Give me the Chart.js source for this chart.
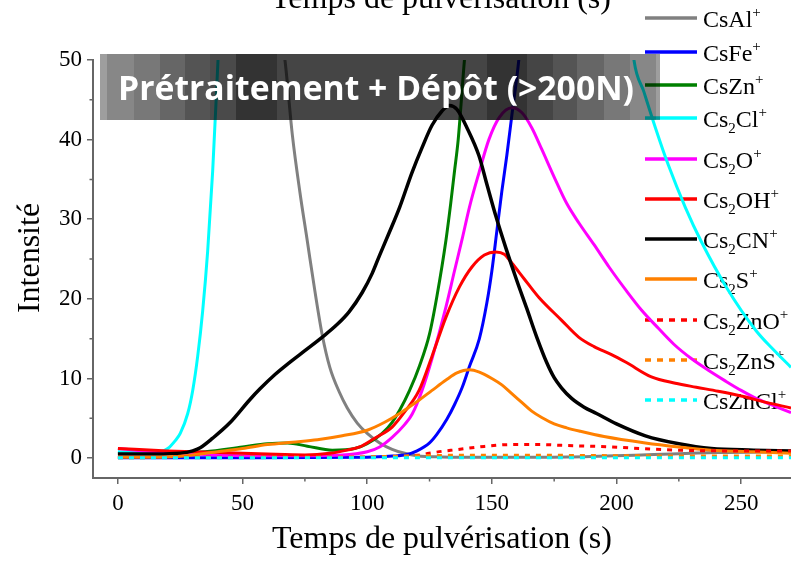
<!DOCTYPE html>
<html lang="fr">
<head>
<meta charset="UTF-8">
<title>Intensité</title>
<script src="https://cdn.jsdelivr.net/npm/chart.js"></script>
<style>
  body { margin: 0; background: #fff; }
  #chart { display: block; }
</style>
</head>
<body>
<canvas id="chart" width="791" height="561"></canvas>

<script>
  // [temps (s), intensité]; values above 50 are off-scale
  var csAl = [[0,120],[40,100],[55,75],[62,60],[67,50],[70,40.5],[73,33.4],[76,27.2],[79,21],[82,15.4],[85,11.4],[88.8,8.3],[92,6.3],[96,4.4],[100,3.1],[105,1.9],[110,1.1],[115,0.6],[120,0.3],[130,0.15],[150,0.1],[180,0.15],[210,0.4],[240,0.7],[270,0.8]];
  var csFe = [[0,0.05],[50,0.05],[100,0.1],[110,0.25],[116,0.45],[120,0.9],[125,1.9],[128,3],[132,4.9],[135,6.7],[138,8.8],[141,11.5],[145,15],[148,19.5],[150,23.5],[152,28.5],[154,33.5],[156,38],[158,43],[160.8,50],[163,58],[170,80],[200,150],[270,200]];
  var csZn = [[0,0.6],[20,0.6],[35,0.8],[50,1.4],[60,1.8],[68,1.9],[76,1.5],[86,1],[95,1.2],[100,1.8],[106,3.1],[110,4.5],[113,6],[117,8.5],[121,11.6],[125,15.6],[128,20.4],[131.6,27.4],[133.5,32],[135,36],[136.5,40],[139,50],[142,60],[150,90],[270,200]];
  var cs2Cl = [[0,0.8],[10,0.7],[17,0.8],[20,1.2],[23,2.2],[25,3.1],[28,5.6],[30,8.5],[32,12.8],[34,18.5],[36,26],[38,36],[40,49],[42,62],[50,100],[120,200],[195,100],[203,63],[207,50],[211,46],[215.6,41.5],[220.8,36.8],[227.6,31.5],[234,27.2],[244,21.5],[256,16],[263,13.6],[270,11.4]];
  var cs2O = [[0,1.2],[15,0.8],[30,0.5],[50,0.3],[70,0.3],[90,0.4],[100,0.8],[105,1.4],[110,2.6],[115,4.2],[118,5.5],[122,8.5],[126,12.5],[131.6,19],[135,23.5],[138,27.4],[141,31.5],[144.8,35.8],[148.8,40],[153,42.8],[158,44],[162,43.4],[166,41.5],[170,38.8],[175,35.3],[180,32],[185,29.5],[191,26.8],[197,24],[204,21],[210,18.6],[216.8,16.3],[223,14.3],[230,12.5],[237,11],[243.6,9.7],[250,8.5],[256,7.5],[263,6.6],[270,5.7]];
  var cs2OH = [[0,1.2],[20,0.9],[40,0.7],[60,0.5],[75,0.4],[85,0.6],[92,1],[97,1.4],[103,2.5],[110,3.9],[115,5.8],[120.8,8.5],[126,12.8],[131.6,17.7],[137,21.5],[142,24],[147,25.5],[151.6,25.9],[155,25.6],[158,24.5],[163,22.5],[168.8,20.2],[178,17.3],[184.8,15.2],[191,14],[198,13],[204,12],[214,10.2],[223.6,9.4],[232,8.9],[240.8,8.4],[250,7.8],[260,7],[270,6.3]];
  var cs2CN = [[0,0.5],[15,0.5],[25,0.6],[30,0.9],[33,1.3],[38,2.5],[44.8,4.4],[52.8,7.3],[57,8.7],[63,10.5],[68.8,12],[75,13.5],[82,15.2],[88,16.8],[92.8,18.4],[98,20.8],[102,23.2],[105,25.5],[108.8,28.3],[113,31.5],[118,35.9],[122,39],[126,41.8],[130,43.6],[133,44.3],[136,43.8],[140,41.5],[144.8,38],[148,34.4],[151.6,30.4],[155.6,26.4],[160,22.3],[164,18.8],[168,15.2],[172,12],[175,10.1],[178,8.8],[182,7.5],[187,6.4],[192,5.6],[200,4.3],[211.6,2.8],[225,1.8],[238,1.2],[255,1],[270,0.9]];
  var cs2S = [[0,0.1],[20,0.15],[30,0.4],[40,0.8],[50,1.2],[60,1.7],[70,2],[80,2.3],[90,2.8],[100,3.5],[107,4.5],[113,5.6],[120,7.1],[126,8.5],[131.6,9.8],[136,10.7],[141,11.1],[145,10.8],[150,10],[154,9.2],[158,8.1],[162,7],[166,5.9],[170,5.1],[175,4.3],[180,3.8],[185,3.4],[195,2.7],[211.6,1.9],[225,1.4],[238,1],[255,0.8],[270,0.6]];
  var cs2ZnO = [[0,0.1],[100,0.1],[115,0.2],[120,0.35],[124.8,0.6],[130,0.85],[135.6,1.05],[144.8,1.4],[158,1.7],[170,1.7],[178,1.6],[198,1.4],[210,1.2],[224.8,1],[245,0.9],[270,0.9]];
  var cs2ZnS = [[0,0.05],[60,0.1],[100,0.15],[120,0.3],[140,0.35],[170,0.35],[200,0.3],[240,0.25],[270,0.25]];
  var csZnCl = [[0,0.05],[100,0.05],[200,0.05],[270,0.05]];

  var seriesData = [csAl, csFe, csZn, cs2Cl, cs2O, cs2OH, cs2CN, cs2S, cs2ZnO, cs2ZnS, csZnCl];
  // '_' = subscript, '^' = superscript (next char)
  var seriesNames = ['CsAl^+', 'CsFe^+', 'CsZn^+', 'Cs_2Cl^+', 'Cs_2O^+', 'Cs_2OH^+', 'Cs_2CN^+', 'Cs_2S^+', 'Cs_2ZnO^+', 'Cs_2ZnS^+', 'CsZnCl^+'];
  var seriesColors = ['#808080', '#0000ff', '#008000', '#00ffff', '#ff00ff', '#ff0000', '#000000', '#ff8000', '#ff0000', '#ff8000', '#00ffff'];
  var seriesDotted = [false, false, false, false, false, false, false, false, true, true, true];

  var xTicks = [0, 50, 100, 150, 200, 250];
  var yTicks = [0, 10, 20, 30, 40, 50];

  var serif = '"Liberation Serif", "Times New Roman", serif';
  var legendY = [18, 52, 85, 118, 159, 199, 239, 279, 320, 360, 400];

  function drawRich(ctx, str, x, y) {
    var i = 0;
    while (i < str.length) {
      var ch = str[i];
      if (ch === '_' || ch === '^') {
        var s = str[i + 1];
        ctx.font = '15px ' + serif;
        ctx.fillText(s, x, y + (ch === '_' ? 6 : -10));
        x += ctx.measureText(s).width;
        i += 2;
      } else {
        ctx.font = '24px ' + serif;
        ctx.fillText(ch, x, y);
        x += ctx.measureText(ch).width;
        i++;
      }
    }
  }

  // legend sits under the curves, as in the original figure
  var legendPlugin = {
    id: 'richLegend',
    beforeDatasetsDraw: function(chart) {
      var ctx = chart.ctx;
      ctx.save();
      seriesNames.forEach(function(name, i) {
        var y = legendY[i];
        ctx.strokeStyle = seriesColors[i];
        ctx.lineWidth = 3.5;
        ctx.setLineDash(seriesDotted[i] ? [6, 6] : []);
        ctx.beginPath();
        ctx.moveTo(645, y);
        ctx.lineTo(697, y);
        ctx.stroke();
        ctx.fillStyle = '#000';
        ctx.textBaseline = 'alphabetic';
        ctx.textAlign = 'left';
        drawRich(ctx, name, 703, y + 9);
      });
      ctx.restore();
    }
  };

  var bannerBands = [[100,107,0.38],[107,134,0.47],[134,160,0.53],[160,185,0.6],[185,210,0.67],[210,236,0.71],[236,277,0.8],[277,487,0.73],[487,527,0.8],[527,553,0.73],[553,577,0.67],[577,604,0.6],[604,630,0.53],[630,656,0.47],[656,660,0.38]];

  var bannerPlugin = {
    id: 'banner',
    afterDatasetsDraw: function(chart) {
      var ctx = chart.ctx;
      ctx.save();
      bannerBands.forEach(function(b) {
        ctx.fillStyle = 'rgba(0,0,0,' + b[2] + ')';
        ctx.fillRect(b[0], 54, b[1] - b[0], 66);
      });
      var txt = 'Prétraitement + Dépôt (>200N)';
      ctx.font = 'bold 34px "Open Sans", sans-serif';
      ctx.fillStyle = '#ffffff';
      ctx.textBaseline = 'alphabetic';
      var w = ctx.measureText(txt).width;
      ctx.translate(118, 100);
      ctx.scale(516 / w, 1);
      ctx.fillText(txt, 0, 0);
      ctx.restore();
    }
  };

  // minor ticks, y title and cropped top axis title
  var extrasPlugin = {
    id: 'extras',
    afterDraw: function(chart) {
      var ctx = chart.ctx;
      var xs = chart.scales.x, ys = chart.scales.y;
      var area = chart.chartArea;
      ctx.save();
      ctx.strokeStyle = '#666';
      ctx.lineWidth = 1.5;
      ctx.beginPath();
      [25, 75, 125, 175, 225].forEach(function(v) {
        var px = xs.getPixelForValue(v);
        ctx.moveTo(px, area.bottom);
        ctx.lineTo(px, area.bottom + 3.5);
      });
      [5, 15, 25, 35, 45].forEach(function(v) {
        var py = ys.getPixelForValue(v);
        ctx.moveTo(area.left, py);
        ctx.lineTo(area.left - 3.5, py);
      });
      ctx.stroke();
      ctx.fillStyle = '#000';
      ctx.font = '32px ' + serif;
      ctx.textAlign = 'center';
      ctx.textBaseline = 'alphabetic';
      ctx.fillText('Temps de pulvérisation (s)', 441, 8);
      ctx.translate(31, 258);
      ctx.rotate(-Math.PI / 2);
      ctx.textBaseline = 'middle';
      ctx.fillText('Intensité', 0, 0);
      ctx.restore();
    }
  };

  var datasets = seriesData.map(function(arr, i) {
    return {
      label: seriesNames[i].replace(/[_^]/g, ''),
      data: arr.map(function(p) { return { x: p[0], y: p[1] }; }),
      borderColor: seriesColors[i],
      borderWidth: i === 6 ? 3.5 : 3,
      borderDash: seriesDotted[i] ? [5, 6] : [],
      pointRadius: 0,
      cubicInterpolationMode: 'monotone',
      fill: false,
      clip: 0,
      order: seriesData.length - i
    };
  });

  var ctx = document.getElementById('chart').getContext('2d');
  new Chart(ctx, {
    type: 'line',
    data: { datasets: datasets },
    plugins: [legendPlugin, bannerPlugin, extrasPlugin],
    options: {
      responsive: false,
      animation: false,
      devicePixelRatio: 1,
      layout: { padding: { top: 60, left: 0, right: 0, bottom: 0 } },
      plugins: { legend: { display: false }, tooltip: { enabled: false } },
      scales: {
        x: {
          type: 'linear',
          min: -10,
          max: 270,
          afterBuildTicks: function(s) { s.ticks = xTicks.map(function(v) { return { value: v }; }); },
          afterFit: function(s) { s.height = 83; },
          grid: { drawOnChartArea: false, tickLength: 6, color: '#666', lineWidth: 1.5 },
          border: { color: '#666', width: 2 },
          ticks: { font: { family: serif, size: 23 }, color: '#000', padding: 6, maxRotation: 0 },
          title: { display: true, text: 'Temps de pulvérisation (s)', color: '#000', font: { family: serif, size: 32 }, padding: { top: 0, bottom: 2 } }
        },
        y: {
          min: -2.5,
          max: 50,
          afterBuildTicks: function(s) { s.ticks = yTicks.map(function(v) { return { value: v }; }); },
          afterFit: function(s) { s.width = 93; },
          grid: { drawOnChartArea: false, tickLength: 6, color: '#666', lineWidth: 1.5 },
          border: { color: '#666', width: 2 },
          ticks: { font: { family: serif, size: 23 }, color: '#000', padding: 5 },
          title: { display: false }
        }
      }
    }
  });
</script>
</body>
</html>
